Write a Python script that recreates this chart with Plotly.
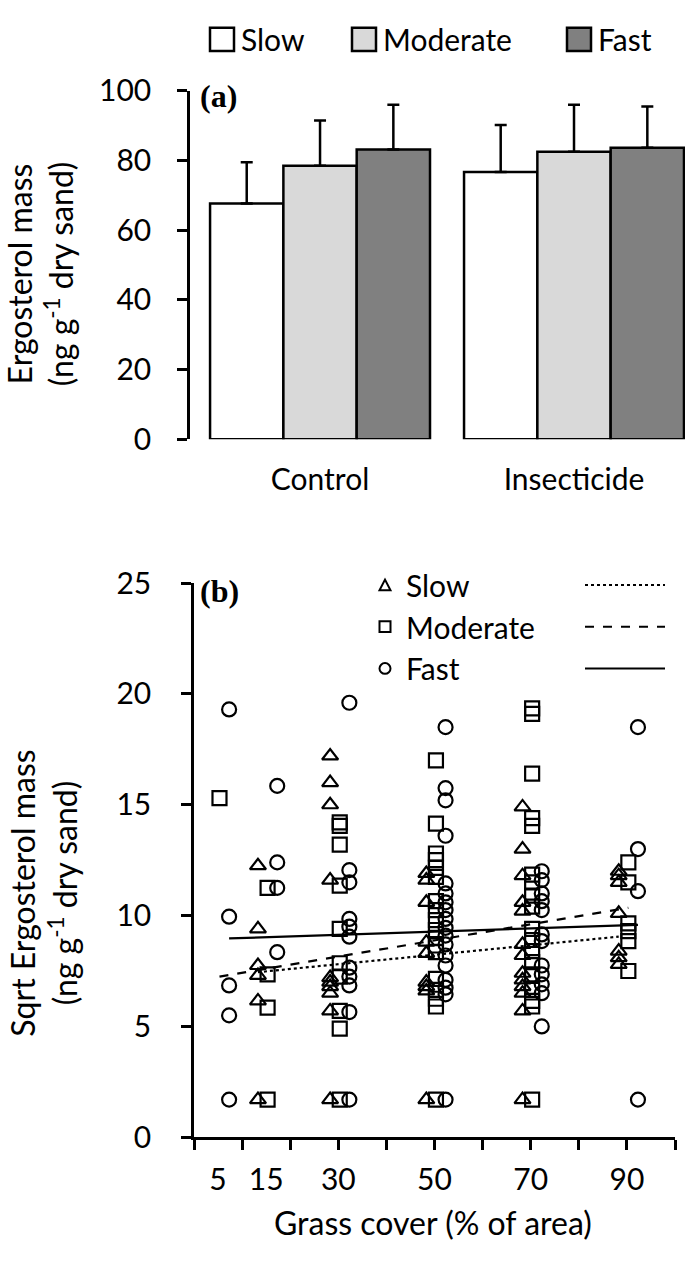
import plotly.graph_objects as go

W, H = 685, 1264
FONT = "Lato"


def px(x):
    return x / W


def py(y):
    return 1 - y / H


# panel (a): ergosterol mass by treatment and decomposition rate
treatments = ["Control", "Insecticide"]
rates = ["Slow", "Moderate", "Fast"]
bar_means = {
    "Slow": [67.7, 76.7],
    "Moderate": [78.5, 82.5],
    "Fast": [83.2, 83.7],
}
bar_errors = {
    "Slow": [11.8, 13.5],
    "Moderate": [13.0, 13.5],
    "Fast": [12.8, 11.8],
}
bar_colors = {"Slow": "white", "Moderate": "#d9d9d9", "Fast": "#808080"}

# panel (b): sqrt ergosterol mass vs grass cover
slow_x = [15] * 6 + [30] * 10 + [50] * 9 + [70] * 13 + [90] * 7
slow_y = [12.25, 9.4, 7.75, 7.3, 6.15, 1.7,
          17.2, 16.0, 15.0, 11.6, 7.2, 7.0, 6.8, 6.5, 5.7, 1.7,
          11.9, 11.6, 10.6, 8.8, 8.3, 7.0, 6.8, 6.6, 1.7,
          14.9, 13.0, 11.8, 10.6, 10.2, 8.7, 8.2, 7.4, 7.1, 6.8, 6.5, 5.7, 1.7,
          12.0, 11.8, 11.5, 10.1, 8.4, 8.1, 7.8]
moderate_x = [5] * 1 + [15] * 4 + [30] * 10 + [50] * 18 + [70] * 18 + [90] * 6
moderate_y = [15.3,
              11.25, 7.35, 5.85, 1.7,
              14.2, 14.05, 13.2, 11.35, 9.4, 7.85, 7.25, 5.7, 4.9, 1.7,
              17.0, 14.15, 12.8, 12.5, 12.15, 11.75, 10.65, 10.25, 9.8, 9.35,
              9.0, 8.65, 8.35, 7.15, 6.65, 6.25, 5.9, 1.7,
              19.35, 19.1, 16.4, 14.4, 14.05, 11.85, 11.5, 10.9, 10.4, 9.4,
              8.9, 8.4, 7.9, 7.35, 6.65, 6.15, 5.9, 1.7,
              12.4, 11.5, 9.65, 9.3, 8.85, 7.5]
fast_x = [5] * 5 + [15] * 4 + [30] * 11 + [50] * 18 + [70] * 12 + [90] * 4
fast_y = [19.3, 9.95, 6.85, 5.5, 1.7,
          15.85, 12.4, 11.25, 8.35,
          19.6, 12.05, 11.5, 9.85, 9.5, 9.05, 7.65, 7.25, 6.85, 5.65, 1.7,
          18.5, 15.75, 15.2, 13.6, 11.45, 11.0, 10.6, 10.25, 9.85, 9.45,
          9.1, 8.7, 8.2, 7.75, 7.1, 6.75, 6.45, 1.7,
          12.0, 11.6, 11.0, 10.65, 10.25, 9.15, 8.85, 7.75, 7.35, 6.9, 6.5, 5.0,
          18.5, 13.0, 11.1, 1.7]

# fitted regression lines (end points)
slow_fit_x = [13.3, 88.3]
slow_fit_y = [7.45, 9.05]
moderate_fit_x = [5.3, 90.3]
moderate_fit_y = [7.25, 10.35]
fast_fit_x = [7.3, 92.3]
fast_fit_y = [8.97, 9.58]

cover_ticks = [5, 15, 30, 50, 70, 90]

fig = go.Figure()

for r in rates:
    fig.add_trace(go.Bar(
        x=treatments, y=bar_means[r], name=r,
        marker=dict(color=bar_colors[r], line=dict(color="black", width=2.5)),
        error_y=dict(type="data", symmetric=False, array=bar_errors[r],
                     arrayminus=[0] * len(treatments),
                     color="black", thickness=2.5, width=6),
        xaxis="x", yaxis="y", showlegend=False,
    ))

# small horizontal jitter so the groups sit side by side
jitter = {"Slow": -1.7, "Moderate": 0.3, "Fast": 2.3}
symbols = {"Slow": "triangle-up-open", "Moderate": "square-open", "Fast": "circle-open"}
series = {"Slow": (slow_x, slow_y), "Moderate": (moderate_x, moderate_y), "Fast": (fast_x, fast_y)}
for r in rates:
    xs, ys = series[r]
    fig.add_trace(go.Scatter(
        x=[v + jitter[r] for v in xs], y=ys, mode="markers", name=r,
        marker=dict(symbol=symbols[r], size=14, color="black", line=dict(width=2.2)),
        xaxis="x2", yaxis="y2", showlegend=False,
    ))

fits = {"Slow": (slow_fit_x, slow_fit_y, "dot"),
        "Moderate": (moderate_fit_x, moderate_fit_y, "dash"),
        "Fast": (fast_fit_x, fast_fit_y, "solid")}
for r in rates:
    fx, fy, dash = fits[r]
    fig.add_trace(go.Scatter(
        x=fx, y=fy, mode="lines", line=dict(color="black", width=2.2, dash=dash),
        xaxis="x2", yaxis="y2", showlegend=False,
    ))

# invisible trace so the label axis gets drawn
fig.add_trace(go.Scatter(x=[None], y=[None], xaxis="x3", yaxis="y2", showlegend=False))

axis_common = dict(showgrid=False, zeroline=False, color="black",
                   tickfont=dict(family=FONT, size=30, color="black"))

fig.update_layout(
    width=W, height=H, autosize=False,
    margin=dict(l=0, r=0, t=0, b=0),
    paper_bgcolor="white", plot_bgcolor="white",
    barmode="group", bargap=0.134, bargroupgap=0,
    font=dict(family=FONT, size=30, color="black"),
    xaxis=dict(domain=[px(190), 1], anchor="y", type="category",
               range=[-0.512, 1.437], showline=False, ticks="",
               ticklabelstandoff=20, **axis_common),
    yaxis=dict(domain=[py(432), py(73)], anchor="x", range=[0, 100], dtick=20,
               showline=True, linewidth=2.5, linecolor="black",
               ticks="outside", ticklen=10, tickwidth=2.5, tickcolor="black",
               ticklabelstandoff=20, **axis_common),
    xaxis2=dict(domain=[px(194), px(675)], anchor="y2", range=[0, 100],
                tickvals=list(range(0, 101, 10)), showticklabels=False,
                showline=True, linewidth=2.5, linecolor="black",
                ticks="outside", ticklen=10, tickwidth=2.5, tickcolor="black",
                **axis_common),
    xaxis3=dict(overlaying="x2", anchor="y2", side="bottom", range=[0, 100],
                tickvals=cover_ticks, ticks="", showline=False,
                ticklabelstandoff=22, **axis_common),
    yaxis2=dict(domain=[py(1151), py(580)], anchor="x2", range=[0, 25], dtick=5,
                showline=True, linewidth=2.5, linecolor="black",
                ticks="outside", ticklen=10, tickwidth=2.5, tickcolor="black",
                ticklabelstandoff=24, **axis_common),
)

ann = []
shapes = []


def label(x, y, text, size=30, family=FONT, xanchor="center", angle=0):
    ann.append(dict(x=px(x), y=py(y), xref="paper", yref="paper", text=text,
                    showarrow=False, xanchor=xanchor, yanchor="middle",
                    textangle=angle, font=dict(family=family, size=size, color="black")))


# axis titles
label(40, 262, "Ergosterol mass<br>(ng g<sup>-1</sup> dry sand)", size=32, angle=-90)
label(44, 900, "Sqrt Ergosterol mass<br>(ng g<sup>-1</sup> dry sand)", size=32, angle=-90)
label(433, 1239, "Grass cover (% of area)", size=32)

# panel letters
label(198, 78, "<b>(a)</b>", size=32, family="Liberation Serif", xanchor="left")
label(198, 588, "<b>(b)</b>", size=32, family="Liberation Serif", xanchor="left")

# top legend for the bars
box = 24
for r, bx in zip(rates, [210, 352, 567]):
    shapes.append(dict(type="rect", xref="paper", yref="paper",
                       x0=px(bx), x1=px(bx + box), y0=py(20 + box / 2), y1=py(20 - box / 2),
                       fillcolor=bar_colors[r], line=dict(color="black", width=2.5)))
    label(bx + box + 5, 20, r, xanchor="left")

# legend of panel (b)
mk = 5.5
dashes = {"Slow": "dot", "Moderate": "dash", "Fast": "solid"}
for r, ry in zip(rates, [582, 625, 668]):
    cx = 385
    if r == "Slow":
        path = "M{},{} L{},{} L{},{} Z".format(px(cx - mk), py(ry + mk), px(cx + mk), py(ry + mk),
                                               px(cx), py(ry - mk))
        shapes.append(dict(type="path", xref="paper", yref="paper", path=path,
                           line=dict(color="black", width=2)))
    elif r == "Moderate":
        shapes.append(dict(type="rect", xref="paper", yref="paper",
                           x0=px(cx - mk), x1=px(cx + mk), y0=py(ry + mk), y1=py(ry - mk),
                           line=dict(color="black", width=2)))
    else:
        shapes.append(dict(type="circle", xref="paper", yref="paper",
                           x0=px(cx - mk), x1=px(cx + mk), y0=py(ry + mk), y1=py(ry - mk),
                           line=dict(color="black", width=2)))
    label(404, ry, r, xanchor="left")
    shapes.append(dict(type="line", xref="paper", yref="paper",
                       x0=px(585), x1=px(665), y0=py(ry), y1=py(ry),
                       line=dict(color="black", width=2, dash=dashes[r])))

fig.update_layout(annotations=ann, shapes=shapes)

# drop the default page margin so the figure fills the window exactly
fig.write_html("out.html", config={"displayModeBar": False},
               post_script="document.body.style.margin='0';document.body.style.overflow='hidden';")
